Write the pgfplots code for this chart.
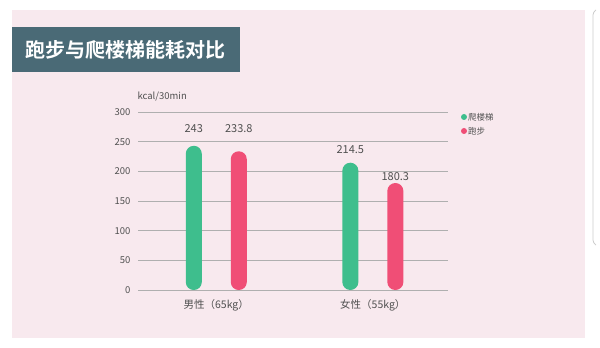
\documentclass[border=0pt]{standalone}
\usepackage{pgfplots}
\pgfplotsset{compat=1.18}
\usepackage{fontspec}
\setmainfont{Noto Sans CJK SC}[BoldFont={Noto Sans CJK SC Bold}]
\definecolor{panel}{RGB}{248,233,238}
\definecolor{titlebg}{RGB}{74,106,118}
\definecolor{climb}{RGB}{62,190,141}
\definecolor{run}{RGB}{240,78,118}
\definecolor{txt}{RGB}{80,80,80}
\definecolor{gridc}{RGB}{175,175,175}
\begin{document}
\begin{tikzpicture}[x=1pt,y=1pt]
\fill[white] (0,0) rectangle (600,348);
\fill[panel] (12,10) rectangle (585,338);
\draw[gray!40, line width=0.8pt, rounded corners=3pt] (596,338) -- (593,336) -- (593,105) -- (596,103);
\fill[titlebg] (12,276) rectangle (240,321);
\node[text=white, font=\bfseries\fontsize{20}{22}\selectfont] at (125,298.5) {跑步与爬楼梯能耗对比};
\begin{axis}[
  anchor=south west, at={(138pt,58pt)},
  scale only axis, width=310pt, height=178pt,
  xmin=-0.5, xmax=1.48, ymin=0, ymax=300,
  axis line style={draw=none},
  ymajorgrids, grid style={draw=gridc, line width=0.8pt},
  ytick={0,50,...,300},
  major tick length=0pt,
  xtick={0,1}, xticklabels={男性（65kg）, 女性（55kg）},
  tick label style={text=txt, font=\fontsize{9.5}{11}\selectfont},
  xticklabel style={font=\fontsize{10.5}{12}\selectfont, yshift=-6pt},
  /pgf/number format/assume math mode=true,
  yticklabel style={xshift=-4pt},
  ybar, bar width=16pt,
  nodes near coords,
  every node near coord/.append style={text=txt, font=\fontsize{11}{12}\selectfont, anchor=south},
  visualization depends on={\thisrow{off} \as \off},
  every node near coord/.append style={yshift=\off pt},
  point meta=explicit symbolic,
  clip=false,
]
\addplot[fill=climb, draw=none, bar shift=-22.5pt, rounded corners=7.9pt]
  table[meta=lab] {
x y off lab
0 243 10 243
1 214.5 6 214.5
};
\addplot[fill=run, draw=none, bar shift=22.5pt, rounded corners=7.9pt]
  table[meta=lab] {
x y off lab
0 233.8 15.5 233.8
1 180.3 -1 180.3
};
\end{axis}
\node[anchor=west, text=txt, font=\fontsize{9.5}{11}\selectfont] at (134,251) {kcal/30min};
\fill[climb] (464,231) circle (3pt);
\node[anchor=west, text=txt, font=\fontsize{8.5}{10}\selectfont, inner sep=0pt] at (468,231) {爬楼梯};
\fill[run] (464,217) circle (3pt);
\node[anchor=west, text=txt, font=\fontsize{8.5}{10}\selectfont, inner sep=0pt] at (468,217) {跑步};
\end{tikzpicture}
\end{document}
